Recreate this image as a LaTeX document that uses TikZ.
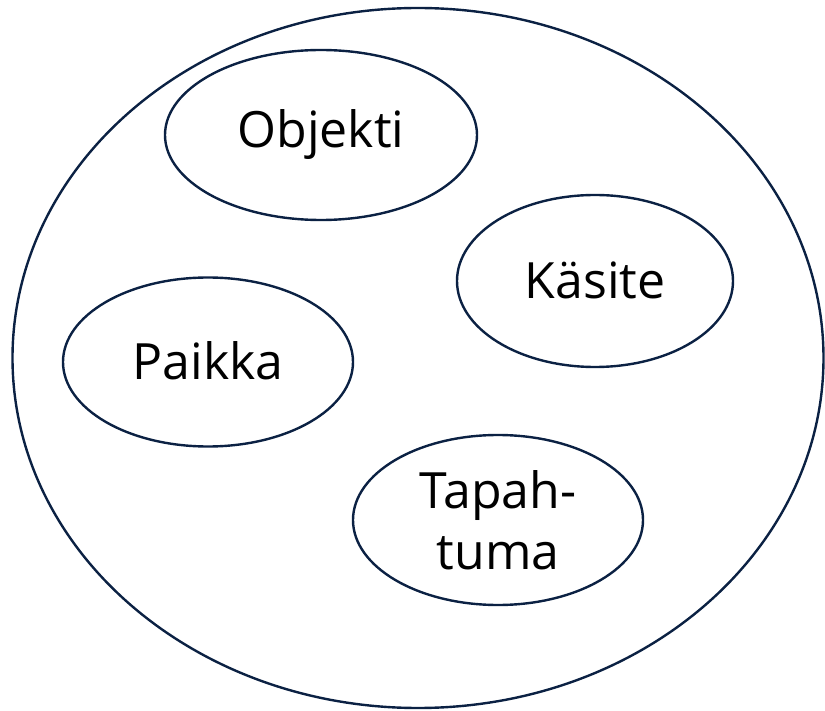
\documentclass[tikz,border=0pt]{standalone}
\usepackage{fontspec}
\setmainfont{Open Sans}
\usetikzlibrary{shapes.geometric}
\definecolor{navyline}{HTML}{0B2143}

\begin{document}
\begin{tikzpicture}[x=1pt, y=-1pt,
  outer/.style={draw=navyline, line width=2.4pt, ellipse, minimum width=811pt, minimum height=700pt, inner sep=0pt},
  concept/.style={draw=navyline, line width=2.4pt, ellipse, inner sep=0pt, font=\fontsize{50}{61}\selectfont, align=center}
  ]
  \useasboundingbox (0,0) rectangle (825,711);

  % Nodes
  \node[outer] (world) at (418,358) {};
  \node[concept, minimum width=312pt, minimum height=170pt] (objekti) at (321,135) {\raisebox{4pt}{Objekti}};
  \node[concept, minimum width=276pt, minimum height=172pt] (kasite) at (595,281) {\raisebox{2pt}{Käsite}};
  \node[concept, minimum width=290pt, minimum height=169pt] (paikka) at (208,362) {\raisebox{2pt}{Paikka}};
  \node[concept, minimum width=290pt, minimum height=170pt] (tapahtuma) at (498,520) {Tapah-\\tuma};

\end{tikzpicture}
\end{document}
